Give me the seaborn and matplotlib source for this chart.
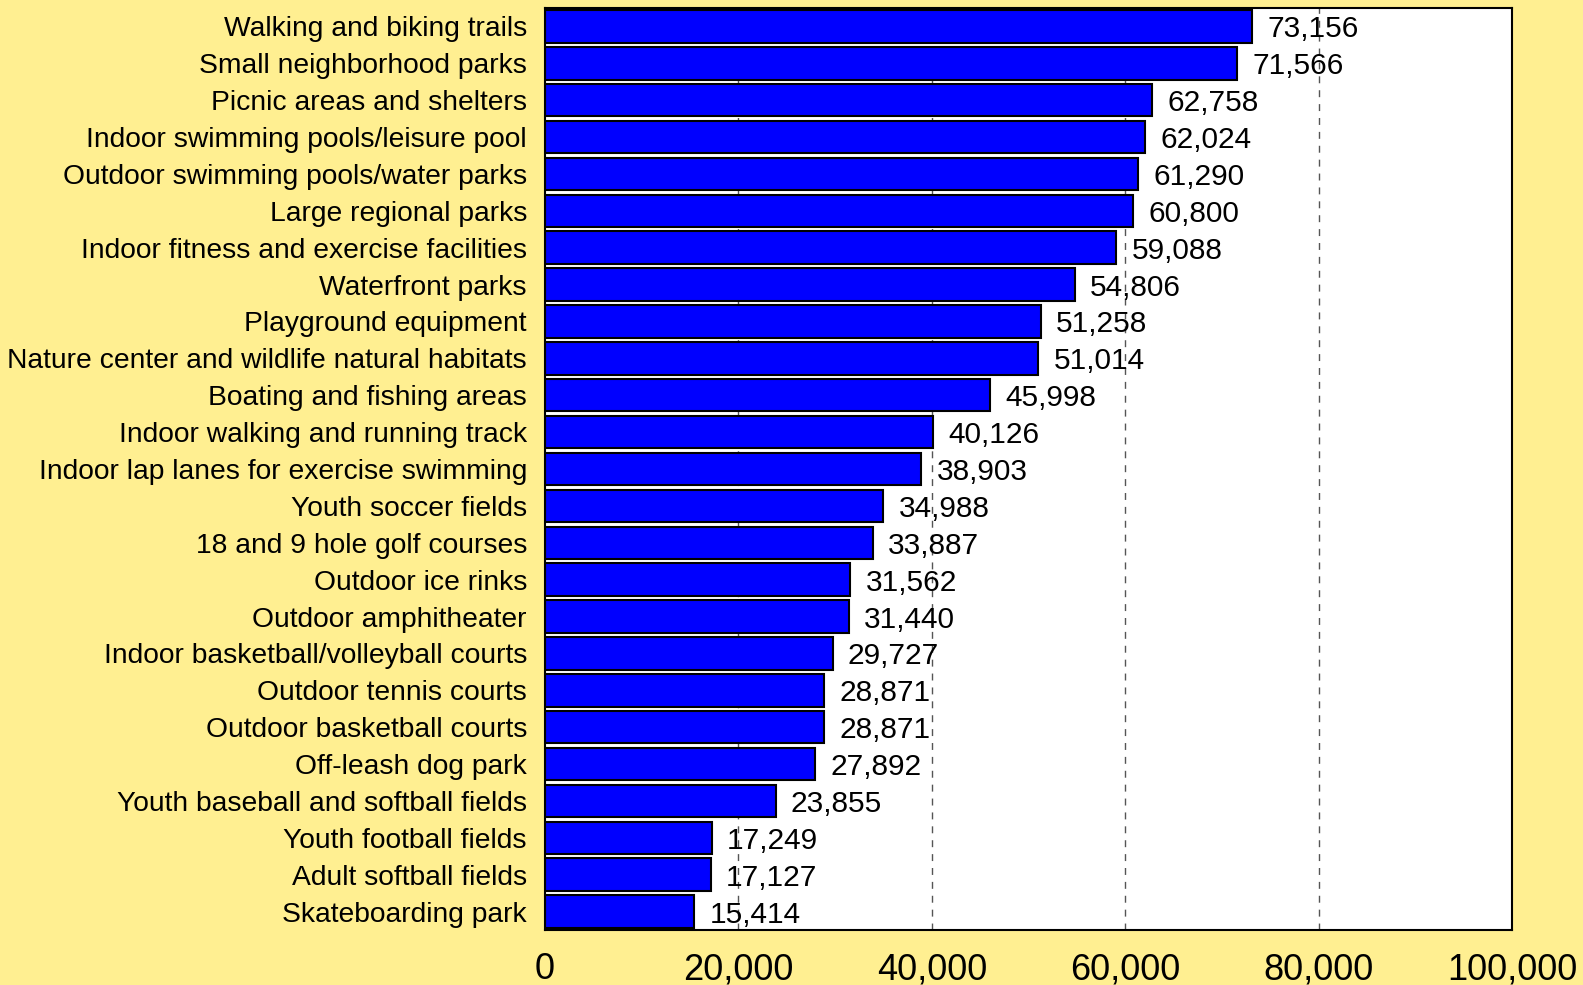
import pandas as pd
import seaborn as sns
import matplotlib.pyplot as plt
from matplotlib.ticker import FuncFormatter

# Facility demand data
facilities = [
    "Walking and biking trails",
    "Small neighborhood parks",
    "Picnic areas and shelters",
    "Indoor swimming pools/leisure pool",
    "Outdoor swimming pools/water parks",
    "Large regional parks",
    "Indoor fitness and exercise facilities",
    "Waterfront parks",
    "Playground equipment",
    "Nature center and wildlife natural habitats",
    "Boating and fishing areas",
    "Indoor walking and running track",
    "Indoor lap lanes for exercise swimming",
    "Youth soccer fields",
    "18 and 9 hole golf courses",
    "Outdoor ice rinks",
    "Outdoor amphitheater",
    "Indoor basketball/volleyball courts",
    "Outdoor tennis courts",
    "Outdoor basketball courts",
    "Off-leash dog park",
    "Youth baseball and softball fields",
    "Youth football fields",
    "Adult softball fields",
    "Skateboarding park",
]
households = [73156, 71566, 62758, 62024, 61290, 60800, 59088, 54806, 51258, 51014,
              45998, 40126, 38903, 34988, 33887, 31562, 31440, 29727, 28871, 28871,
              27892, 23855, 17249, 17127, 15414]
x_ticks = [0, 20000, 40000, 60000, 80000, 100000]

df = pd.DataFrame({"Facility": facilities, "Households": households})

sns.set_theme(style="white")
plt.rcParams["font.family"] = ["Liberation Sans", "DejaVu Sans"]
plt.rcParams["text.color"] = "black"
plt.rcParams["xtick.color"] = "black"
plt.rcParams["ytick.color"] = "black"

bg = "#FFEF91"
fig = plt.figure(figsize=(15.83, 9.85), dpi=100, facecolor=bg)
ax = fig.add_axes([0.3443, 0.0558, 0.6109, 0.9361])
ax.set_facecolor("white")

sns.barplot(data=df, x="Households", y="Facility", color="#0000FF", saturation=1,
            edgecolor="black", linewidth=1.5, width=0.88, ax=ax)

for v in x_ticks[1:-1]:
    ax.axvline(v, color="#555555", linestyle=(0, (5, 5)), linewidth=1, zorder=0)

for i, v in enumerate(households):
    ax.annotate(f"{v:,}", xy=(v, i), xytext=(11, 0), textcoords="offset points",
                va="center_baseline", ha="left", fontsize=21.5, color="black")

ax.set_xlim(0, 100000)
ax.set_xticks(x_ticks)
ax.xaxis.set_major_formatter(FuncFormatter(lambda x, p: f"{int(x):,}"))
ax.tick_params(axis="x", labelsize=26, length=0, pad=16, labelcolor="black")
ax.tick_params(axis="y", labelsize=20.3, length=0, pad=13, labelcolor="black")
ax.set_xlabel("")
ax.set_ylabel("")
for s in ax.spines.values():
    s.set_color("black")
    s.set_linewidth(1.5)

plt.savefig("out.png", facecolor=bg)
